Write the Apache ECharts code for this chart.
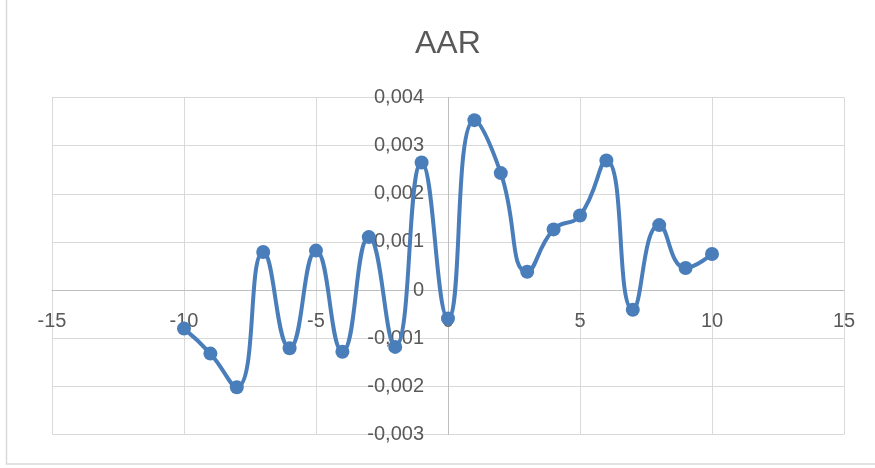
<!DOCTYPE html>
<html>
<head>
<meta charset="utf-8">
<title>AAR</title>
<script src="https://cdn.jsdelivr.net/npm/echarts@6/dist/echarts.min.js"></script>
<style>
  html, body {
    margin: 0;
    padding: 0;
    background: #ffffff;
  }
  #chart {
    width: 875px;
    height: 468px;
  }
</style>
</head>
<body>
<div id="chart"></div>
<script>
// event days and average abnormal return
let days = [-10, -9, -8, -7, -6, -5, -4, -3, -2, -1, 0, 1, 2, 3, 4, 5, 6, 7, 8, 9, 10];
let aar = [-0.00080, -0.00132, -0.00202, 0.00079, -0.00121, 0.00082, -0.00128, 0.00110, -0.00118, 0.00265,
  -0.00059, 0.00353, 0.00243, 0.00038, 0.00126, 0.00155, 0.00269, -0.00041, 0.00135, 0.00046, 0.00075];

let xTicks = [-15, 15, 5];          // min, max, interval
let yTicks = [-0.003, 0.004, 0.001];

function initEcharts() {
  let points = days.map(function (d, i) { return [d, aar[i]]; });
  let textColor = '#595959';
  let font = '"Liberation Sans", Arial, sans-serif';

  // plot box, axes crossing at (0, 0) like the excel chart
  let W = 875, H = 468;
  let gLeft = 52, gRight = 31, gTop = 97.5, gBottom = 33.5;
  let plotW = W - gLeft - gRight, plotH = H - gTop - gBottom;
  let yAxisOffset = -plotW * (0 - xTicks[0]) / (xTicks[1] - xTicks[0]);
  let xAxisOffset = -plotH * (0 - yTicks[0]) / (yTicks[1] - yTicks[0]);

  let option = {
    animation: false,
    backgroundColor: '#ffffff',
    title: {
      text: 'AAR',
      left: 410,
      top: 23,
      textStyle: {
        fontFamily: font,
        fontSize: 32,
        fontWeight: 'normal',
        color: textColor
      }
    },
    graphic: [
      {
        type: 'rect',
        silent: true,
        shape: { x: 6.5, y: -10, width: 900, height: 474 },
        style: { fill: 'none', stroke: '#d9d9d9', lineWidth: 1.5 }
      }
    ],
    grid: {
      left: gLeft,
      right: gRight,
      top: gTop,
      bottom: gBottom,
      containLabel: false,
      outerBoundsMode: 'none'
    },
    xAxis: {
      type: 'value',
      position: 'bottom',
      offset: xAxisOffset,
      min: xTicks[0],
      max: xTicks[1],
      interval: xTicks[2],
      axisLine: {
        show: true,
        onZero: false,
        lineStyle: { color: '#bfbfbf', width: 1 }
      },
      axisTick: { show: false },
      axisLabel: {
        margin: 21,
        fontFamily: font,
        fontSize: 20,
        color: textColor
      },
      splitLine: {
        show: true,
        lineStyle: { color: '#d9d9d9', width: 1 }
      }
    },
    yAxis: {
      type: 'value',
      position: 'left',
      offset: yAxisOffset,
      min: yTicks[0],
      max: yTicks[1],
      interval: yTicks[2],
      axisLine: {
        show: true,
        onZero: false,
        lineStyle: { color: '#bfbfbf', width: 1 }
      },
      axisTick: { show: false },
      axisLabel: {
        margin: 24,
        fontFamily: font,
        fontSize: 20,
        color: textColor,
        formatter: function (v) {
          if (Math.abs(v) < 1e-9) return '0';
          return v.toFixed(3).replace('.', ',');
        }
      },
      splitLine: {
        show: true,
        lineStyle: { color: '#d9d9d9', width: 1 }
      }
    },
    series: [
      {
        name: 'AAR',
        type: 'line',
        data: points,
        smooth: 0.5,
        symbol: 'circle',
        symbolSize: 14,
        lineStyle: { color: '#4a7ebb', width: 4 },
        itemStyle: { color: '#4a7ebb' },
        z: 5
      }
    ]
  };

  let myChart = echarts.init(document.getElementById('chart'));
  myChart.setOption(option);
}

initEcharts();
</script>
</body>
</html>
